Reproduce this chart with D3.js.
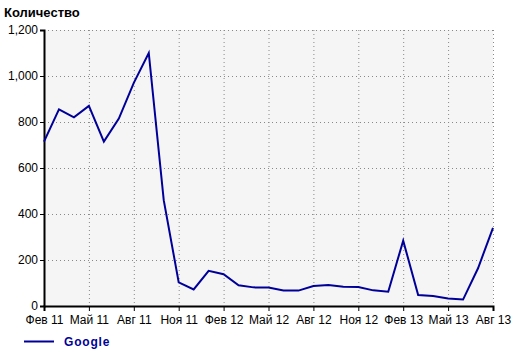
<!DOCTYPE html>
<html>
<head>
<meta charset="utf-8">
<script src="https://cdn.jsdelivr.net/npm/d3@7"></script>
<style>
  body { margin: 0; background: #fff; }
  text { font-family: "Liberation Sans", Arial, sans-serif; }
</style>
</head>
<body>
<svg id="chart" width="520" height="353"></svg>
<script>
// monthly values, Feb 2011 .. Aug 2013
const months = d3.range(31).map(i => new Date(2011, 1 + i, 1));
const values = [715, 855, 820, 870, 715, 815, 970, 1100, 460, 103, 72, 153, 138, 90, 81,
                80, 67, 67, 87, 91, 84, 83, 68, 62, 284, 48, 43, 33, 28, 164, 340];
const yTicks = [0, 200, 400, 600, 800, 1000, 1200];
const monthNames = ["Янв", "Фев", "Мар", "Апр", "Май", "Июн", "Июл", "Авг", "Сен", "Окт", "Ноя", "Дек"];
const seriesName = "Google";

const svg = d3.select("#chart");
const margin = {top: 30, right: 27, bottom: 47, left: 44};
const width = 520 - margin.left - margin.right;
const height = 353 - margin.top - margin.bottom;

// months are evenly spaced in the original, so scale by index
const x = d3.scaleLinear().domain([0, months.length - 1]).range([0, width]);
const y = d3.scaleLinear().domain([0, 1200]).range([height, 0]);

const g = svg.append("g").attr("transform", `translate(${margin.left},${margin.top})`);

g.append("rect").attr("width", width).attr("height", height).attr("fill", "#f5f5f5");

const xTicks = d3.range(0, months.length, 3);

// grid
g.selectAll(".vgrid").data(xTicks).enter().append("line")
  .attr("x1", d => x(d) + 0.5).attr("x2", d => x(d) + 0.5)
  .attr("y1", 0).attr("y2", height)
  .attr("stroke", "#888").attr("stroke-dasharray", "1,3");
g.selectAll(".hgrid").data(yTicks).enter().append("line")
  .attr("x1", 0).attr("x2", width)
  .attr("y1", d => y(d) + 0.5).attr("y2", d => y(d) + 0.5)
  .attr("stroke", "#888").attr("stroke-dasharray", "1,3");

// axes
const fmt = d3.format(",");
const yAxis = g.append("g").call(d3.axisLeft(y).tickValues(yTicks).tickSize(4).tickFormat(fmt));
const xAxis = g.append("g").attr("transform", `translate(0,${height})`)
  .call(d3.axisBottom(x).tickValues(xTicks).tickSize(5)
    .tickFormat(i => monthNames[months[i].getMonth()] + " " + String(months[i].getFullYear()).slice(2)));

[yAxis, xAxis].forEach(a => {
  a.select(".domain").attr("stroke", "#000").attr("stroke-width", 2);
  a.selectAll(".tick line").attr("stroke", "#000");
  a.selectAll("text").attr("fill", "#000").style("font-size", "12px")
    .style("font-family", "'Liberation Sans', Arial, sans-serif");
});
yAxis.selectAll("text").attr("x", -6);
xAxis.selectAll("text").attr("y", 9);

// line
g.append("path")
  .datum(values)
  .attr("fill", "none")
  .attr("stroke", "#000099")
  .attr("stroke-width", 2)
  .attr("d", d3.line().x((d, i) => x(i)).y(d => y(d)));

// title
svg.append("text").attr("x", 4).attr("y", 17)
  .style("font-size", "13px").style("font-weight", "bold").text("Количество");

// legend
svg.append("line").attr("x1", 24).attr("x2", 54).attr("y1", 341.5).attr("y2", 341.5)
  .attr("stroke", "#000099").attr("stroke-width", 2);
svg.append("text").attr("x", 64).attr("y", 346)
  .style("font-size", "12px").style("font-weight", "bold").style("letter-spacing", "0.8px")
  .attr("fill", "#000099").text(seriesName);
</script>
</body>
</html>
